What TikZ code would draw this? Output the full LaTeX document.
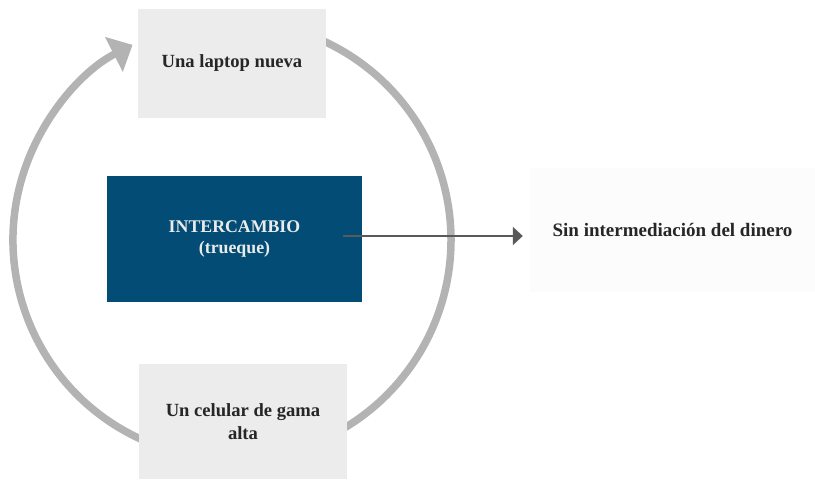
\documentclass[tikz,border=0pt]{standalone}
\usepackage{fontspec}
\setmainfont{Liberation Serif}
\usetikzlibrary{arrows.meta}
\definecolor{ringgray}{HTML}{B3B3B3}
\definecolor{boxgray}{HTML}{ECECEC}
\definecolor{faintgray}{HTML}{FCFCFC}
\definecolor{deepblue}{HTML}{024C75}
\definecolor{txtdark}{HTML}{262626}
\definecolor{linegray}{HTML}{595959}
\tikzset{
  ring/.style={draw=ringgray, line width=7.5pt},
  itembox/.style={fill=boxgray, draw=none, text=txtdark, font=\fontsize{18.6}{23}\selectfont\bfseries, align=center, inner sep=0pt},
  centerbox/.style={fill=deepblue, draw=none, text=white!92!black, font=\fontsize{17.8}{21.5}\selectfont\bfseries, align=center, inner sep=0pt},
  notebox/.style={fill=faintgray, draw=none, text=txtdark, font=\fontsize{19}{23}\selectfont\bfseries, align=center, inner sep=0pt},
  link/.style={draw=linegray, line width=2pt, -{Triangle[length=10pt,width=18pt]}}
}
\begin{document}
\begin{tikzpicture}[x=1pt,y=1pt]
\useasboundingbox (0,0) rectangle (815,480);
\coordinate (c) at (232,240);
% ring arcs (drawn first; boxes cover their ends)
\draw[ring] (c) ++(100:219) arc[start angle=100, end angle=-100, radius=219];
\draw[ring, -{Triangle[length=21pt,width=38pt]}] (c) ++(250:219) arc[start angle=250, end angle=117, radius=219];
% boxes
\node[itembox, minimum width=188pt, minimum height=109pt] (top) at (232,416.5) {Una laptop nueva};
\node[centerbox, minimum width=255pt, minimum height=126pt] (mid) at (234.5,241) {INTERCAMBIO\\(trueque)};
\node[itembox, minimum width=208pt, minimum height=115pt] (bot) at (243,58.5) {Un celular de gama\\alta};
\node[notebox, minimum width=285pt, minimum height=124pt] (note) at (672.5,250) {Sin intermediación del dinero};
% connector
\coordinate (s) at (343,244);
\draw[link, shorten >=7pt] (s) -- (s -| note.west);
\end{tikzpicture}
\end{document}
